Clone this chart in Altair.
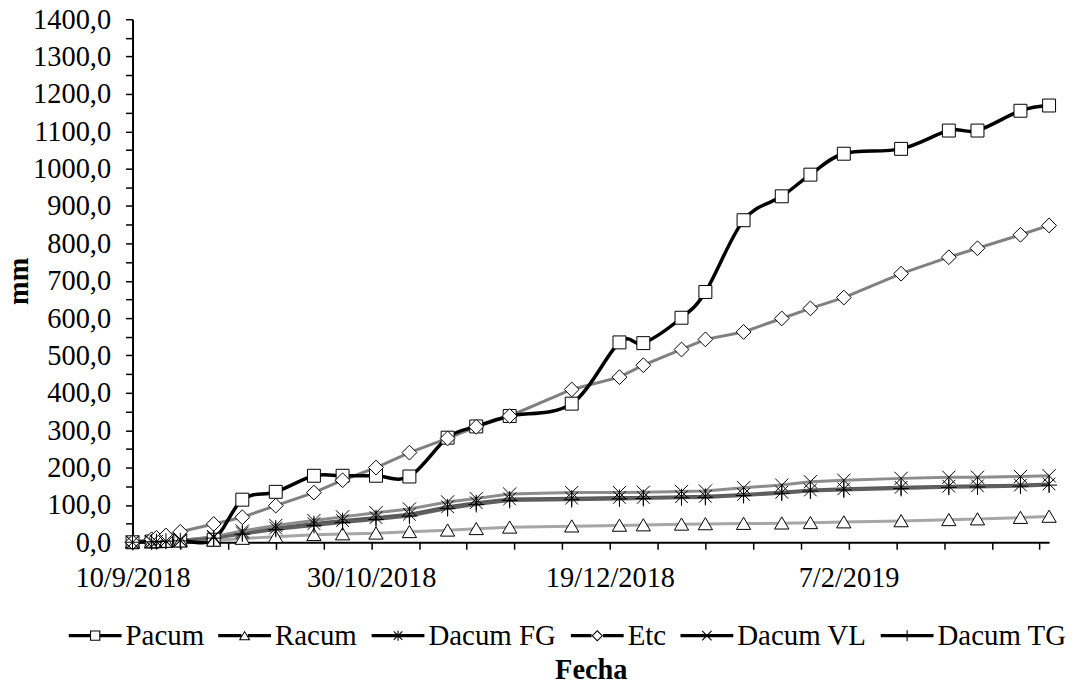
import math
import altair as alt
import pandas as pd

FONT = "Liberation Serif"

# ---- data ----
fechas = ["2018-09-10", "2018-09-14", "2018-09-15", "2018-09-17", "2018-09-20",
          "2018-09-27", "2018-10-03", "2018-10-10", "2018-10-18", "2018-10-24",
          "2018-10-31", "2018-11-07", "2018-11-15", "2018-11-21", "2018-11-28",
          "2018-12-11", "2018-12-21", "2018-12-26", "2019-01-03", "2019-01-08",
          "2019-01-16", "2019-01-24", "2019-01-30", "2019-02-06", "2019-02-18",
          "2019-02-28", "2019-03-06", "2019-03-15", "2019-03-21"]

pacum = [0, 2, 3, 4, 5, 7, 114, 135, 178, 178, 178, 176, 280, 310, 338, 371,
         535, 533, 601, 670, 862, 926, 984, 1040, 1053, 1102, 1102, 1155, 1169]
racum = [0, 1, 1, 2, 3, 5, 10, 15, 20, 22, 24, 28, 32, 36, 40, 43,
         45, 46, 48, 49, 50, 51, 52, 54, 57, 60, 62, 66, 69]
dacum_fg = [0, 1, 2, 3, 5, 13, 25, 38, 50, 58, 66, 75, 95, 106, 116, 118,
            120, 120, 122, 123, 128, 134, 140, 143, 147, 150, 151, 153, 156]
etc = [0, 8, 12, 18, 28, 49, 67, 98, 133, 166, 200, 240, 278, 309, 338, 409,
       442, 474, 516, 543, 563, 599, 626, 655, 719, 763, 787, 823, 848]
dacum_vl = [0, 1, 2, 3, 5, 15, 30, 45, 58, 68, 79, 89, 108, 117, 129, 133,
            133, 134, 136, 137, 146, 153, 162, 166, 171, 174, 174, 176, 178]
dacum_tg = [0, 1, 2, 3, 4, 11, 22, 34, 45, 53, 61, 70, 90, 101, 112, 114,
            116, 117, 119, 120, 125, 131, 137, 140, 144, 147, 148, 150, 153]

series = ["Pacum", "Racum", "Dacum FG", "Etc", "Dacum VL", "Dacum TG"]
valores = [pacum, racum, dacum_fg, etc, dacum_vl, dacum_tg]
colores = ["#000000", "#a6a6a6", "#595959", "#808080", "#8c8c8c", "#5f5f5f"]

x_ticks = ["2018-09-10", "2018-09-20", "2018-09-30", "2018-10-10", "2018-10-20",
           "2018-10-30", "2018-11-09", "2018-11-19", "2018-11-29", "2018-12-09",
           "2018-12-19", "2018-12-29", "2019-01-08", "2019-01-18", "2019-01-28",
           "2019-02-07", "2019-02-17", "2019-02-27", "2019-03-09", "2019-03-19"]
x_labels = ["2018-09-10", "2018-10-30", "2018-12-19", "2019-02-07"]
x_domain = ["2018-09-10", "2019-03-21"]
y_ticks = list(range(0, 1401, 50))

# ---- marker geometry (styling only) ----
SYM = 2809            # symbol area -> 53 px box, 26.5 px per unit
PX = 1 / 26.5

# chart markers (open outlines, stroked black)
formas = [
    "M-0.245,-0.245L0.245,-0.245L0.245,0.245L-0.245,0.245Z",            # square
    "M0,-0.24L0.27,0.22L-0.27,0.22Z",                                    # triangle
    "M-0.24,-0.24L0.24,0.24M-0.24,0.24L0.24,-0.24M0,-0.3L0,0.3",          # asterisk
    "M0,-0.28L0.28,0L0,0.28L-0.28,0Z",                                   # diamond
    "M-0.25,-0.25L0.25,0.25M-0.25,0.25L0.25,-0.25",                      # x
    "M0,-0.3L0,0.3M-0.3,0L0.3,0",                                        # plus
]


def _area(p):
    return sum(p[i][0] * p[(i + 1) % len(p)][1] - p[(i + 1) % len(p)][0] * p[i][1]
               for i in range(len(p))) / 2


def _poly(p, positive=True):
    if (_area(p) > 0) != positive:
        p = p[::-1]
    return "M" + "L".join(f"{x:.4f},{y:.4f}" for x, y in p) + "Z"


def _bar(x1, y1, x2, y2, hw):
    dx, dy = x2 - x1, y2 - y1
    L = math.hypot(dx, dy)
    nx, ny = -dy / L * hw, dx / L * hw
    return _poly([(x1 + nx, y1 + ny), (x2 + nx, y2 + ny),
                  (x2 - nx, y2 - ny), (x1 - nx, y1 - ny)])


LINE_HW = 1.6 * PX
THIN = 0.55 * PX


def _line(gap):
    if gap <= 0:
        return _bar(-1, 0, 1, 0, LINE_HW)
    return _bar(-1, 0, -gap, 0, LINE_HW) + _bar(gap, 0, 1, 0, LINE_HW)


def _frame(outer, inner):
    return _poly(outer, True) + _poly(inner, False)


h, t = 5.2 * PX, 1.1 * PX
sq_leg = _line(h) + _frame([(-h, -h), (h, -h), (h, h), (-h, h)],
                           [(-h + t, -h + t), (h - t, -h + t), (h - t, h - t), (-h + t, h - t)])
tri_leg = _line(0.12) + _frame([(0, -0.19), (0.22, 0.17), (-0.22, 0.17)],
                               [(0, -0.117), (0.152, 0.132), (-0.152, 0.132)])
d, di = 5.8 * PX, 5.8 * PX - 1.5 * PX
dia_leg = _line(d) + _frame([(0, -d), (d, 0), (0, d), (-d, 0)],
                            [(0, -di), (di, 0), (0, di), (-di, 0)])
k = 4.3 * PX
x_bars = _bar(-k, -k, k, k, THIN) + _bar(-k, k, k, -k, THIN)
ast_leg = _line(0) + x_bars + _bar(0, -5.2 * PX, 0, 5.2 * PX, THIN)
x_leg = _line(0) + _bar(-1.1 * k, -1.1 * k, 1.1 * k, 1.1 * k, THIN) + \
    _bar(-1.1 * k, 1.1 * k, 1.1 * k, -1.1 * k, THIN)
plus_leg = _line(0) + _bar(0, -5.5 * PX, 0, 5.5 * PX, THIN)
formas_leyenda = [sq_leg, tri_leg, ast_leg, dia_leg, x_leg, plus_leg]


def ms(s):
    return int(pd.Timestamp(s, tz="UTC").timestamp() * 1000)


rows = []
for name, vals in zip(series, valores):
    for f, v in zip(fechas, vals):
        rows.append({"fecha": f, "valor": v, "serie": name, "serie_m": name})
df = pd.DataFrame(rows)

label_ms = ",".join(str(ms(s)) for s in x_labels)
x_label_expr = (f"indexof([{label_ms}], time(datum.value)) >= 0 ? "
                "utcFormat(datum.value, '%-d/%-m/%Y') : ''")
y_label_expr = ("datum.value % 100 == 0 ? "
                "replace(format(datum.value, '.1f'), '.', ',') : ''")

axis_common = dict(
    labelFont=FONT, labelFontSize=28.5, labelColor="black",
    titleFont=FONT, titleFontSize=28.5, titleFontWeight="bold", titleColor="black",
    domainColor="black", domainWidth=2, tickColor="black", tickWidth=1.5,
    tickSize=7, grid=False, labelOverlap=False, labelFlush=False,
)

x_enc = alt.X(
    "fecha:T",
    scale=alt.Scale(type="utc", domain=[ms(x_domain[0]), ms(x_domain[1])], nice=False),
    axis=alt.Axis(values=[ms(s) for s in x_ticks], labelExpr=x_label_expr,
                  title="Fecha", labelPadding=14, titlePadding=64, **axis_common),
)
y_enc = alt.Y(
    "valor:Q",
    scale=alt.Scale(domain=[0, 1400], nice=False),
    axis=alt.Axis(values=y_ticks, labelExpr=y_label_expr, title="mm",
                  labelPadding=15, titlePadding=-1, **axis_common),
)

leyenda = alt.Legend(
    orient="none", direction="horizontal", title=None,
    labelFont=FONT, labelFontSize=29, labelColor="black", labelOffset=4,
    columnPadding=14, padding=0, symbolSize=SYM, symbolStrokeWidth=0,
    symbolFillColor="#000000", symbolOpacity=1, legendX=-64, legendY=592,
)

base = alt.Chart(df)

stroke_enc = alt.Stroke("serie:N", scale=alt.Scale(domain=series, range=colores),
                        legend=None)

lineas = base.mark_line(strokeWidth=3).encode(
    x=x_enc, y=y_enc, stroke=stroke_enc
).transform_filter("datum.serie != 'Pacum'")

linea_p = base.mark_line(strokeWidth=3.5, interpolate="cardinal").encode(
    x=x_enc, y=y_enc, stroke=stroke_enc
).transform_filter("datum.serie == 'Pacum'")

puntos = base.mark_point(filled=True, fill="white", stroke="black",
                         strokeWidth=1, size=SYM, opacity=1).encode(
    x=x_enc, y=y_enc,
    shape=alt.Shape("serie_m:N", sort=series, scale=alt.Scale(range=formas),
                    legend=None),
)

# legend-only layer: no rows drawn, legend symbols = line + marker
solo_leyenda = base.mark_point(filled=True, size=SYM, opacity=1, strokeWidth=0).encode(
    x=x_enc, y=y_enc,
    color=alt.Color("serie:N", scale=alt.Scale(domain=series, range=colores),
                    legend=leyenda),
    shape=alt.Shape("serie:N", scale=alt.Scale(domain=series, range=formas_leyenda),
                    legend=leyenda),
).transform_filter("false")

chart = alt.layer(lineas, linea_p, puntos, solo_leyenda).resolve_scale(
    shape="independent"
).properties(
    width=920, height=525,
    autosize=alt.AutoSizeParams(type="none"),
    padding={"left": 125, "top": 10, "right": 25, "bottom": 142},
    background="white",
).configure_view(stroke=None)

chart.save("out.html", embed_options={"renderer": "svg", "actions": False})
